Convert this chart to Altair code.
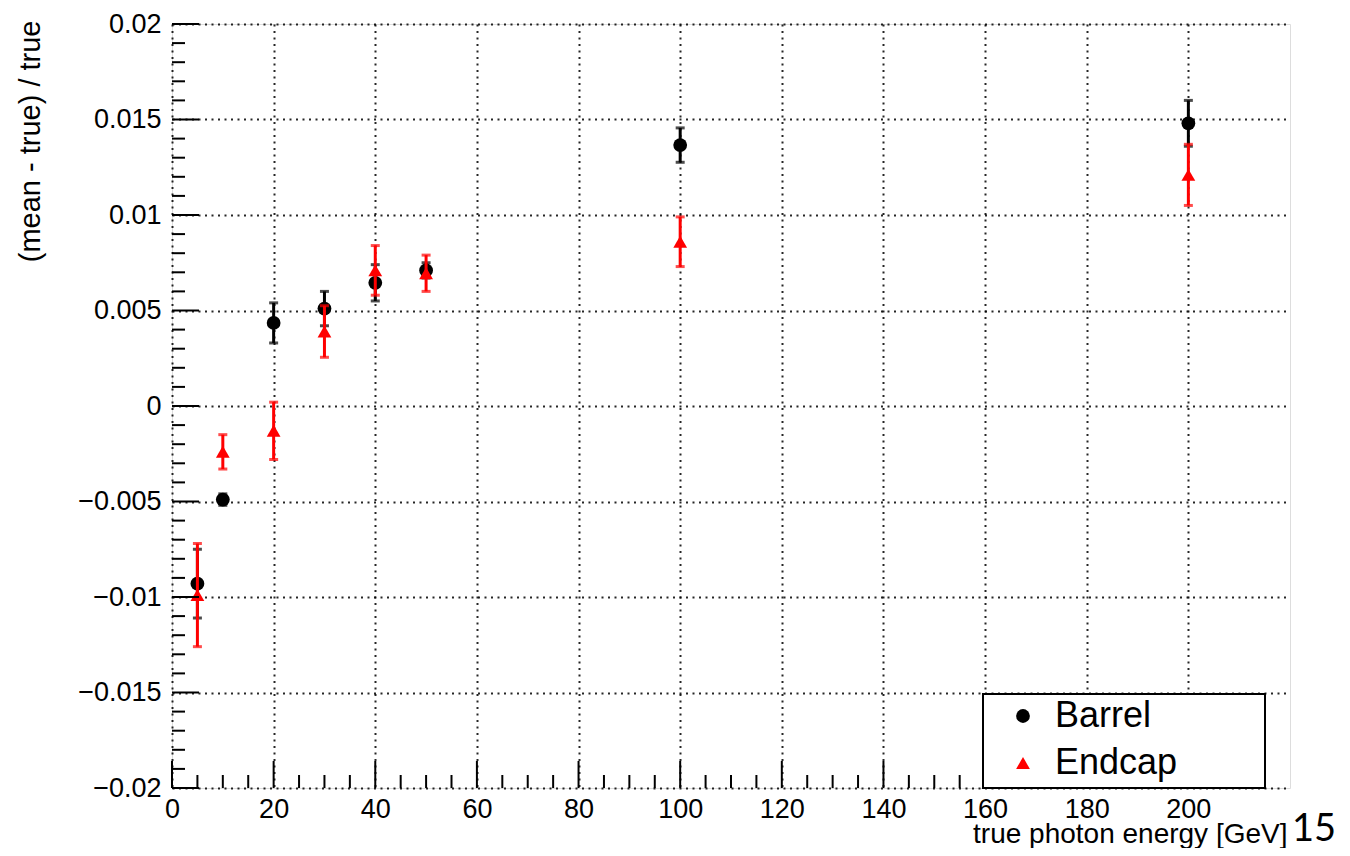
import altair as alt
import pandas as pd

# ---------------- data ----------------
energies = [5, 10, 20, 30, 40, 50, 100, 200]
series_names = ["Barrel", "Endcap"]
series_colors = ["#000000", "#ff0000"]
series_shapes = ["circle", "triangle-up"]

barrel_mean = [-0.0093, -0.0049, 0.00435, 0.0051, 0.00645, 0.0071, 0.01366, 0.0148]
barrel_err = [0.0018, 0.0003, 0.00105, 0.0009, 0.00095, 0.0004, 0.0009, 0.0012]
endcap_mean = [-0.0099, -0.0024, -0.0013, 0.0039, 0.0071, 0.00695, 0.0086, 0.0121]
endcap_err = [0.0027, 0.0009, 0.0015, 0.00135, 0.0013, 0.00095, 0.0013, 0.0016]

x_major_ticks = [0, 20, 40, 60, 80, 100, 120, 140, 160, 180, 200]
x_minor_ticks = [v for v in range(5, 220, 5) if v % 20 != 0]
y_major_ticks = [-0.02, -0.015, -0.01, -0.005, 0.0, 0.005, 0.01, 0.015, 0.02]
y_minor_ticks = [round(-0.02 + 0.001 * i, 4) for i in range(1, 40) if i % 5 != 0]

x_title = "true photon energy [GeV]"
y_title = "(mean - true) / true"
page_number = "15"

W, H = 1118, 764
FONT = "Liberation Sans"

rows = []
for name, means, errs in [("Barrel", barrel_mean, barrel_err), ("Endcap", endcap_mean, endcap_err)]:
    for e, m, s in zip(energies, means, errs):
        rows.append({"energy": e, "value": m, "lo": m - s, "hi": m + s, "series": name})
df = pd.DataFrame(rows)

xscale = alt.Scale(domain=[0, 220], nice=False, zero=False)
yscale = alt.Scale(domain=[-0.02, 0.02], nice=False, zero=False)

base = alt.Chart(df)

x_axis = alt.Axis(
    values=x_major_ticks, ticks=False, domain=False, grid=True,
    gridDash=[2, 4.5], gridColor="#000000", gridWidth=2, gridOpacity=0.85,
    labelFontSize=27, labelFont=FONT, labelColor="#000000", labelPadding=8,
    title=x_title, titleFont=FONT, titleFontSize=28, titleFontWeight="normal",
    titleColor="#000000", titleAnchor="end", titleAlign="right",
    titleX=W - 3, titleY=54, titleBaseline="alphabetic", labelFlush=False,
)
y_axis = alt.Axis(
    values=y_major_ticks, ticks=False, domain=False, grid=True, format=".3~f",
    gridDash=[2, 4.5], gridColor="#000000", gridWidth=2, gridOpacity=0.85,
    labelFontSize=27, labelFont=FONT, labelColor="#000000", labelPadding=11,
    title=y_title, titleFont=FONT, titleFontSize=29, titleFontWeight="normal",
    titleColor="#000000", titleAngle=270, titleAlign="right", titleBaseline="middle",
    titleX=-142, titleY=-4, labelFlush=False,
)

# axis/grid carrier layer (invisible points)
axes_layer = base.mark_point(opacity=0).encode(
    x=alt.X("energy:Q", scale=xscale, axis=x_axis),
    y=alt.Y("value:Q", scale=yscale, axis=y_axis),
)

layers = [axes_layer]

color_scale = alt.Scale(domain=series_names, range=series_colors)
shape_scale = alt.Scale(domain=series_names, range=series_shapes)

for name, col in zip(series_names, series_colors):
    sub = base.transform_filter(alt.datum.series == name)
    bars = sub.mark_rule(strokeWidth=3, color=col).encode(
        x=alt.X("energy:Q", scale=xscale),
        y=alt.Y("lo:Q", scale=yscale),
        y2="hi:Q",
    )
    cap_lo = sub.mark_tick(orient="horizontal", size=9, thickness=3, color=col).encode(
        x=alt.X("energy:Q", scale=xscale),
        y=alt.Y("lo:Q", scale=yscale),
    )
    cap_hi = sub.mark_tick(orient="horizontal", size=9, thickness=3, color=col).encode(
        x=alt.X("energy:Q", scale=xscale),
        y=alt.Y("hi:Q", scale=yscale),
    )
    pts = sub.mark_point(filled=True, size=190, opacity=1).encode(
        x=alt.X("energy:Q", scale=xscale),
        y=alt.Y("value:Q", scale=yscale),
        color=alt.Color("series:N", scale=color_scale, legend=alt.Legend(
            title=None, orient="none", legendX=811, legendY=670,
            labelFont=FONT, labelFontSize=36, labelColor="#000000",
            symbolSize=190, symbolOffset=18, labelOffset=14,
            padding=4, rowPadding=11, symbolStrokeWidth=0,
        )),
        shape=alt.Shape("series:N", scale=shape_scale),
    )
    layers += [bars, cap_lo, cap_hi, pts]

# inward ROOT-style ticks
def xticks(vals, length):
    return alt.Chart(pd.DataFrame({"t": vals})).mark_rule(color="#000000", strokeWidth=2).encode(
        x=alt.X("t:Q", scale=xscale), y=alt.value(H), y2=alt.value(H - length))

def yticks(vals, length):
    return alt.Chart(pd.DataFrame({"t": vals})).mark_rule(color="#000000", strokeWidth=2).encode(
        y=alt.Y("t:Q", scale=yscale), x=alt.value(0), x2=alt.value(length))

layers += [xticks(x_major_ticks, 27), xticks(x_minor_ticks, 13),
           yticks(y_major_ticks, 27), yticks(y_minor_ticks, 13)]

# legend frame (white box with black border, over the ticks, under the legend entries)
legend_frame = alt.Chart(pd.DataFrame({"k": [0]})).mark_rect(
    fill="#ffffff", stroke="#000000", strokeWidth=2
).encode(x=alt.value(811), x2=alt.value(1093), y=alt.value(670), y2=alt.value(H))
layers.append(legend_frame)

page = alt.Chart(pd.DataFrame({"t": [page_number]})).mark_text(
    font="Lato", fontSize=38, align="right", baseline="alphabetic", color="#000000"
).encode(text="t:N", x=alt.value(1164), y=alt.value(817))
layers.append(page)

chart = alt.layer(*layers).properties(
    width=W, height=H,
    autosize=alt.AutoSizeParams(type="none"),
    padding={"left": 164, "top": 16, "right": 50, "bottom": 60},
).configure_view(stroke="#000000", strokeWidth=2).configure(background="#ffffff")

chart.save("out.html", embed_options={"renderer": "svg", "actions": False})
